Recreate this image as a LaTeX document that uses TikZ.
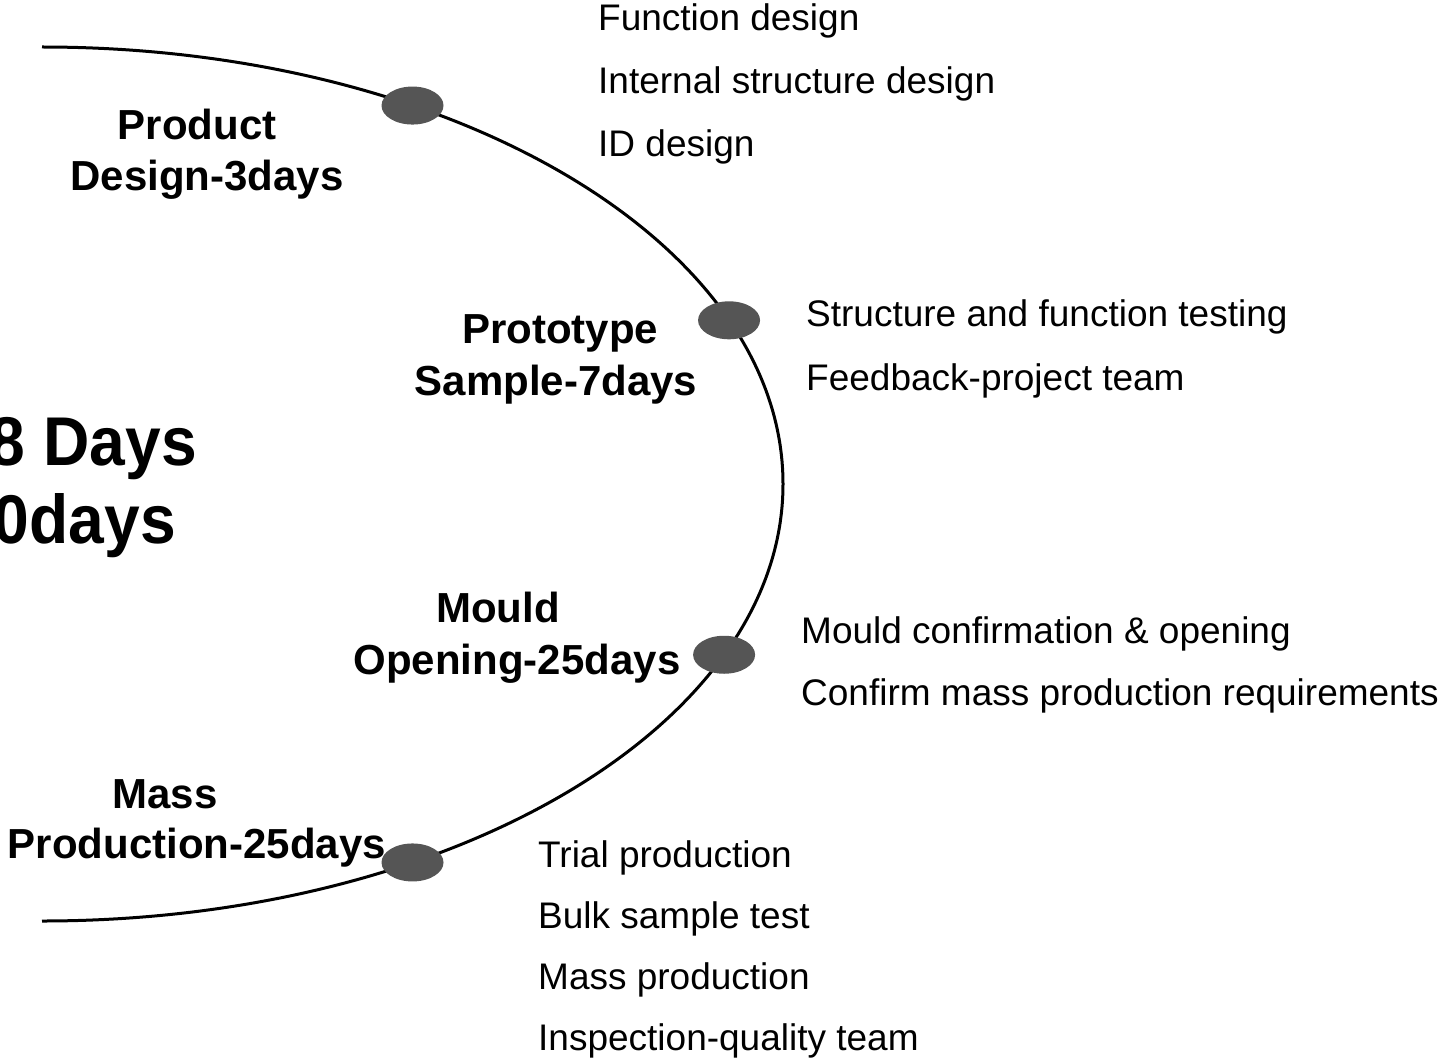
\documentclass[tikz,border=0pt]{standalone}
\usepackage{fontspec}
\setmainfont{Liberation Sans}
\usetikzlibrary{shapes.geometric}
\definecolor{dotgray}{RGB}{85,85,85}
\tikzset{
  milestone/.style={ellipse,fill=dotgray,minimum width=62pt,minimum height=38pt,inner sep=0pt},
  phase/.style={anchor=base,inner sep=0pt,font=\fontsize{42}{50}\selectfont\bfseries},
  task/.style={anchor=base west,inner sep=0pt,font=\fontsize{37}{44}\selectfont},
  total/.style={anchor=base east,inner sep=0pt,xscale=0.93,font=\fontsize{69}{80}\selectfont\bfseries}
}
\begin{document}
\begin{tikzpicture}[x=1pt,y=-1pt]
  \useasboundingbox (0,0) rectangle (1447,1059);
  \clip (0,0) rectangle (1447,1059);
  \coordinate (start) at (42,47);
  \draw[line width=3pt] (start) arc[start angle=-90,end angle=90,x radius=741,y radius=437] coordinate (finish);
  \path
    (42,484) ++(-60:741 and 437) node[milestone] (design){}
    (42,484) ++(-22:741 and 437) node[milestone] (sample){}
    (42,484) ++(23:741 and 437) node[milestone] (mould){}
    (42,484) ++(60:741 and 437) node[milestone] (mass){};
  % phase names
  \node[phase] (design1) at (197,140) {Product};
  \node[phase] (design2) at (207,191) {Design-3days};
  \node[phase] (sample1) at (560,343) {Prototype};
  \node[phase] (sample2) at (556,395) {Sample-7days};
  \node[phase] (mould1) at (498,622) {Mould};
  \node[phase] (mould2) at (517,674) {Opening-25days};
  \node[phase] (mass1) at (165,808) {Mass};
  \node[phase] (mass2) at (197,858) {Production-25days};
  % totals
  \node[total] (total1) at (197,465) {8 Days};
  \node[total] (total2) at (176,543) {0days};
  % tasks
  \node[task] (fd) at (598,31) {Function design};
  \node[task] (isd) at (598,94) {Internal structure design};
  \node[task] (idd) at (598,157) {ID design};
  \node[task] (sft) at (806,326) {Structure and function testing};
  \node[task] (fpt) at (806,390) {Feedback-project team};
  \node[task] (mco) at (801,643) {Mould confirmation \& opening};
  \node[task] (cmp) at (801,705) {Confirm mass production requirements};
  \node[task] (tp) at (538,867) {Trial production};
  \node[task] (bst) at (538,928) {Bulk sample test};
  \node[task] (mp) at (538,989) {Mass production};
  \node[task] (iqt) at (538,1050) {Inspection-quality team};
\end{tikzpicture}
\end{document}
